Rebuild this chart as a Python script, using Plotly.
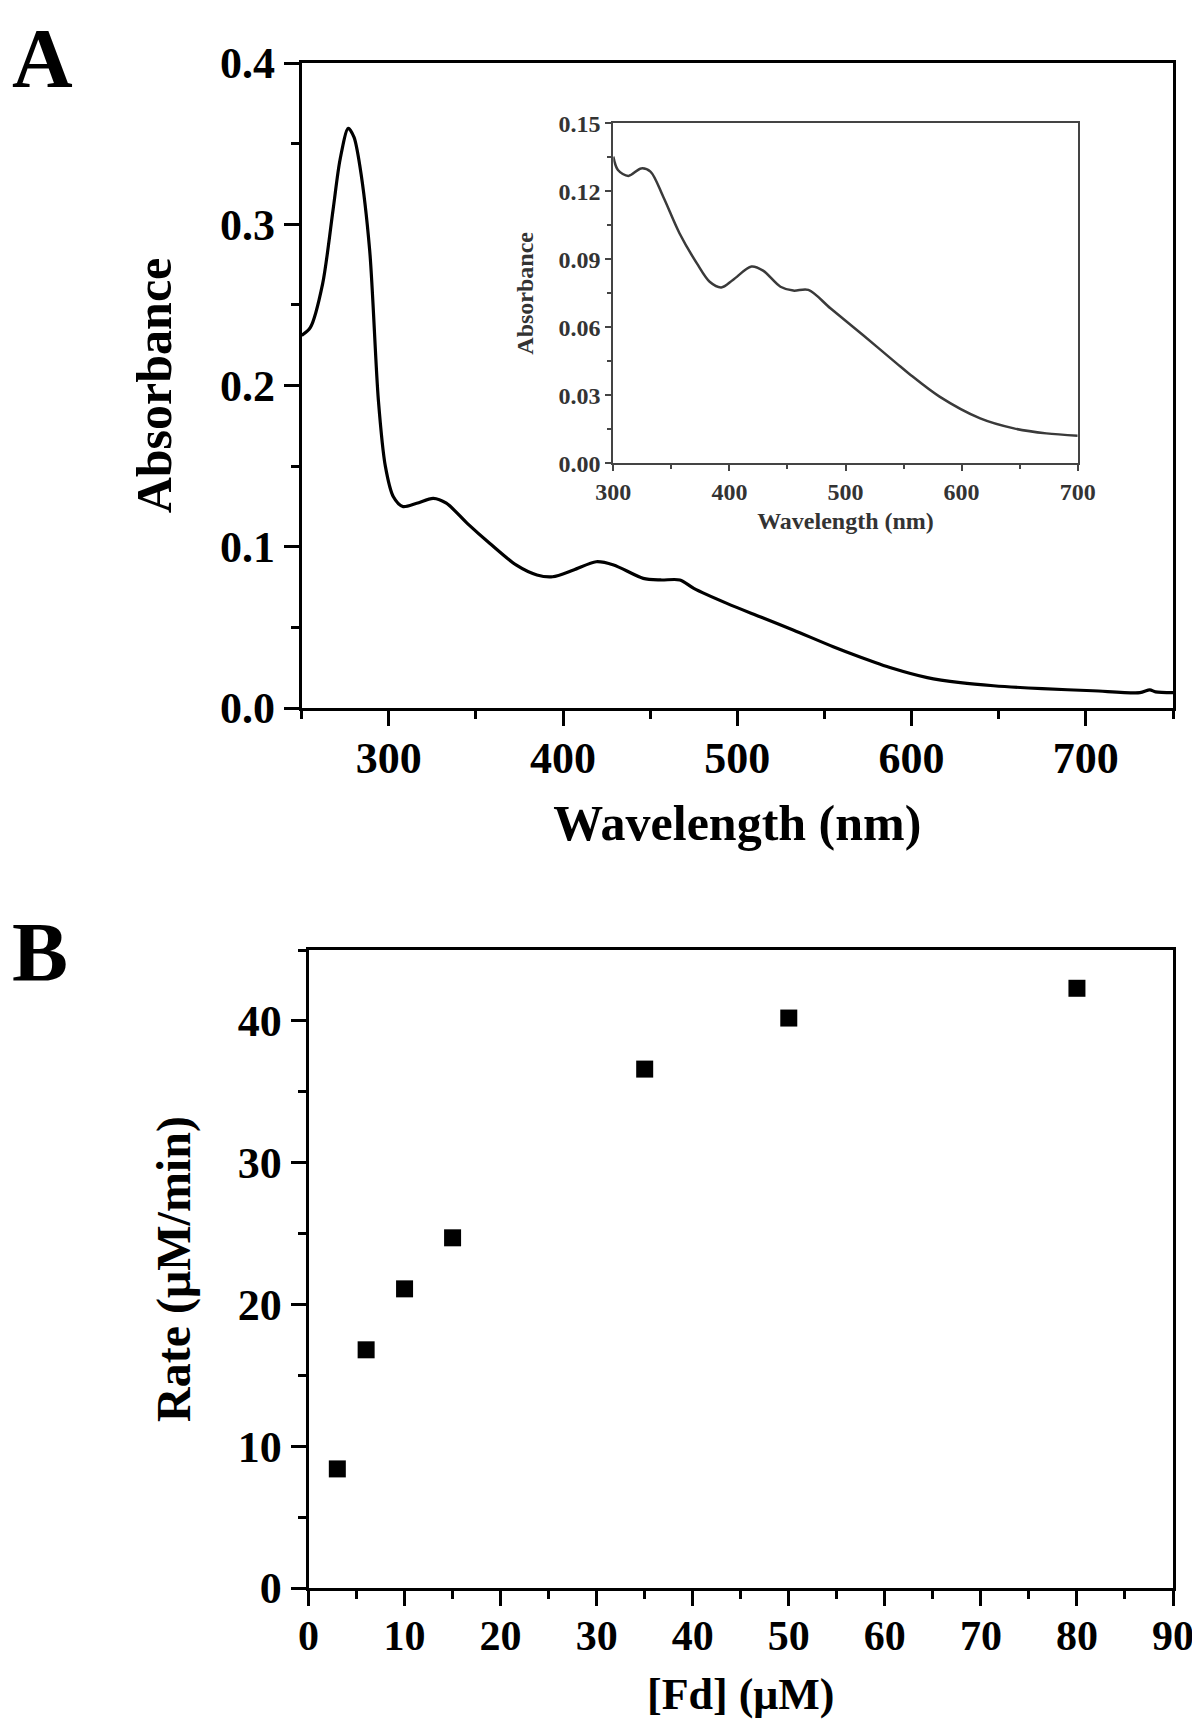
import plotly.graph_objects as go

# ---------------- data ----------------
# Panel A main spectrum
wl_main = [250, 255, 262, 268, 272, 276.7, 280, 283.4, 289, 294, 298, 302.6, 308, 316, 325.5, 333, 345,
           358, 373, 385, 394, 406, 419, 429, 446, 456, 467, 475, 494, 513, 532, 555, 570, 589, 609,
           628, 647, 675, 704, 731, 736.7, 740, 750]
abs_main = [0.231, 0.236, 0.263, 0.309, 0.340, 0.3595, 0.354, 0.336, 0.284, 0.191, 0.150, 0.131, 0.125,
            0.127, 0.130, 0.127, 0.1145, 0.102, 0.0887, 0.0825, 0.0814, 0.0856, 0.0907, 0.0887, 0.0804,
            0.0794, 0.0794, 0.0742, 0.0649, 0.0566, 0.0484, 0.038, 0.0318, 0.0246, 0.0188, 0.0157,
            0.0138, 0.012, 0.0107, 0.0095, 0.0112, 0.0100, 0.0095]

# Inset spectrum
wl_inset = [300, 304, 313, 324, 332, 343, 357, 372, 383, 393, 403, 419, 429, 444, 455, 468, 487, 515,
            544, 555, 581, 616, 645, 673, 700]
abs_inset = [0.1353, 0.1294, 0.1268, 0.1301, 0.1287, 0.1176, 0.1015, 0.0882, 0.0801, 0.0776, 0.0809,
             0.0868, 0.0850, 0.0779, 0.0762, 0.0765, 0.0684, 0.0566, 0.0441, 0.0394, 0.0294, 0.0198,
             0.0154, 0.0132, 0.0122]

# Panel B
fd_conc = [3, 6, 10, 15, 35, 50, 80]
rate = [8.4, 16.8, 21.1, 24.7, 36.6, 40.2, 42.3]

# ---------------- figure ----------------
W, H = 1200, 1727
OFF = 8  # page body margin offset of the rendered figure
FONT = "Liberation Serif, Times New Roman, serif"


def px(x):
    return (x - OFF) / W


def py(y):
    return 1 - (y - OFF) / H


fig = go.Figure()
fig.add_trace(go.Scatter(x=wl_main, y=abs_main, mode="lines",
                         line=dict(color="black", width=3.2, shape="spline", smoothing=0.8),
                         xaxis="x", yaxis="y", showlegend=False))
fig.add_trace(go.Scatter(x=wl_inset, y=abs_inset, mode="lines",
                         line=dict(color="#3a3a3a", width=2.5, shape="spline", smoothing=0.9),
                         xaxis="x3", yaxis="y3", showlegend=False))
fig.add_trace(go.Scatter(x=fd_conc, y=rate, mode="markers",
                         marker=dict(symbol="square", size=17, color="black"),
                         xaxis="x2", yaxis="y2", showlegend=False, cliponaxis=False))


def main_axis(size_tick, size_title, title, standoff, **kw):
    d = dict(showline=True, linecolor="black", linewidth=3, mirror=True, automargin=False,
             ticks="outside", ticklen=15, tickwidth=3, tickcolor="black",
             showgrid=False, zeroline=False,
             tickfont=dict(family=FONT, size=size_tick, color="black", weight="bold"),
             title=dict(text=title, standoff=standoff,
                        font=dict(family=FONT, size=size_title, color="black", weight="bold")),
             minor=dict(ticks="outside", ticklen=8, tickwidth=3, tickcolor="black", showgrid=False))
    d.update(kw)
    return d


def inset_axis(title, standoff, **kw):
    d = dict(showline=True, linecolor="#444", linewidth=2, mirror=True, automargin=False,
             ticks="outside", ticklen=6, tickwidth=2, tickcolor="#444",
             showgrid=False, zeroline=False,
             tickfont=dict(family=FONT, size=24, color="#333", weight="bold"),
             title=dict(text=title, standoff=standoff,
                        font=dict(family=FONT, size=24, color="#333", weight="bold")),
             minor=dict(ticks="outside", ticklen=4, tickwidth=2, tickcolor="#444", showgrid=False))
    d.update(kw)
    return d


fig.update_layout(
    width=W, height=H,
    template="none",
    margin=dict(l=0, r=0, t=0, b=0, autoexpand=False),
    paper_bgcolor="white", plot_bgcolor="white",
    xaxis=main_axis(44, 50, "Wavelength (nm)", 24,
                    domain=[px(301.7), px(1173)], anchor="y",
                    range=[250, 750], tickmode="linear", tick0=300, dtick=100,
                    minor_dtick=50, ticklabelstandoff=-6),
    yaxis=main_axis(44, 50, "Absorbance", 33,
                    domain=[py(708), py(63)], anchor="x",
                    range=[0, 0.4], tickmode="linear", tick0=0, dtick=0.1, tickformat=".1f",
                    minor_dtick=0.05),
    xaxis3=inset_axis("Wavelength (nm)", 8,
                      domain=[px(613.3), px(1077.7)], anchor="y3",
                      range=[300, 700], tickmode="linear", tick0=300, dtick=100,
                      minor_dtick=50),
    yaxis3=inset_axis("Absorbance", 18,
                      domain=[py(463.3), py(123.3)], anchor="x3",
                      range=[0, 0.15], tickmode="linear", tick0=0, dtick=0.03, tickformat=".2f",
                      minor_dtick=0.015),
    xaxis2=main_axis(42, 44, "[Fd] (μM)", 20,
                     domain=[px(308.5), px(1173)], anchor="y2",
                     range=[0, 90], tickmode="linear", tick0=0, dtick=10,
                     minor_dtick=5, ticklabelstandoff=-6),
    yaxis2=main_axis(44, 48, "Rate (μM/min)", 32,
                     domain=[py(1588), py(950)], anchor="x2",
                     range=[0, 45], tickmode="linear", tick0=0, dtick=10,
                     minor_dtick=5),
    annotations=[
        dict(text="A", x=px(42), y=py(10), xref="paper", yref="paper", showarrow=False,
             xanchor="center", yanchor="top",
             font=dict(family=FONT, size=84, color="black", weight="bold")),
        dict(text="B", x=px(10), y=py(952), xref="paper", yref="paper", showarrow=False,
             xanchor="left", yanchor="middle",
             font=dict(family=FONT, size=84, color="black", weight="bold")),
    ],
)

fig.write_html("out.html")
